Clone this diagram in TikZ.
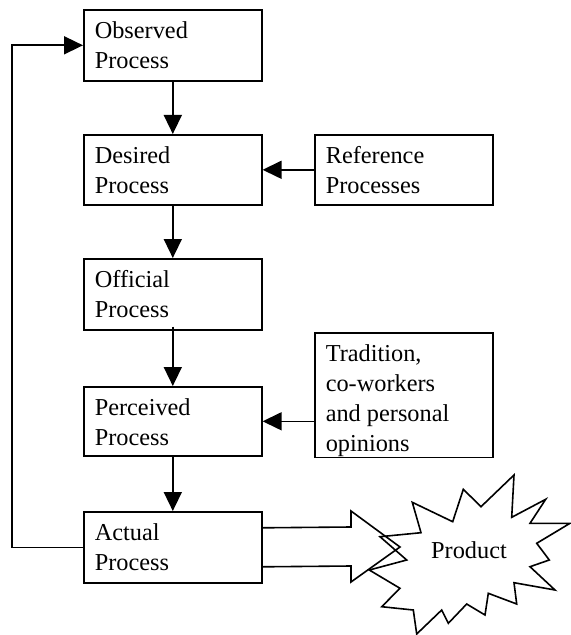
\documentclass[tikz,border=0pt]{standalone}
\usepackage{fontspec}
\setmainfont{Liberation Serif}
\usetikzlibrary{arrows.meta,calc}
\newcommand\lstrut{\rule{0pt}{28.7bp}}
\newcommand\bxt[2]{\parbox[c][#1][t]{156bp}{\raggedright\lstrut #2}}
\begin{document}
\begin{tikzpicture}[x=1bp,y=-1bp,
  txtfont/.style={font=\fontsize{24.3bp}{30bp}\selectfont},
  box/.style={draw,line width=1.6bp,inner xsep=11bp,inner ysep=0pt,anchor=north west,txtfont},
  arr/.style={line width=1.6bp,-{Triangle[length=19bp,width=18bp]}},
  shapeline/.style={line width=1.6bp,line join=miter}]
\useasboundingbox (0,0) rectangle (571,635);

\node[box] (obs) at (83,9) {\bxt{71bp}{Observed\\Process}};
\node[box] (des) at (83,134) {\bxt{70bp}{Desired\\Process}};
\node[box] (off) at (83,258) {\bxt{71bp}{Official\\Process}};
\node[box] (per) at (83,386) {\bxt{69bp}{Perceived\\Process}};
\node[box] (act) at (83,511) {\bxt{71bp}{Actual\\Process}};
\node[box] (ref) at (314,134) {\bxt{70bp}{Reference\\Processes}};
\node[box] (trad) at (314,332) {\bxt{124.7bp}{Tradition,\\co-workers\\and personal\\opinions}};

\draw[arr] (obs) -- (des);
\draw[arr] (des) -- (off);
\draw[arr] ([yshift=4bp]off.south) -- (per);
\draw[arr] (per) -- (act);
\draw[arr] (ref) -- (des);
\draw[arr] (trad.west |- per.east) -- (per.east);
\draw[arr] (act.west) -- ++(-71,0) |- (obs.west);

% starburst
\draw[shapeline] (380,536.7) -- (421,532.7) -- (412.3,502.3) -- (452.7,521.7) -- (463.3,489.3)
  -- (481,506.7) -- (514,475) -- (511.7,517.3) -- (545.7,499.3) -- (530,523.3) -- (570,523.3)
  -- (536.7,543.3) -- (549.3,560) -- (530,566.7) -- (555,590) -- (514,582.7) -- (516.7,604)
  -- (488.3,593.3) -- (485,615) -- (466.7,604) -- (448.3,623.3) -- (441.7,610) -- (416.7,634)
  -- (413.3,610) -- (381.7,606.7) -- (400,588.3) -- (369.3,570) -- (406.7,560) -- cycle;

% block arrow
\draw[shapeline] ($(act.east)+(0,-19.5)$) -- (351,527) -- (351,511) -- (400,547)
  -- (351,582) -- (351,566) -- ($(act.east)+(0,19.5)$);

\node[txtfont,anchor=base,inner sep=0pt] (prod) at (469,558.3) {Product};
\end{tikzpicture}
\end{document}
